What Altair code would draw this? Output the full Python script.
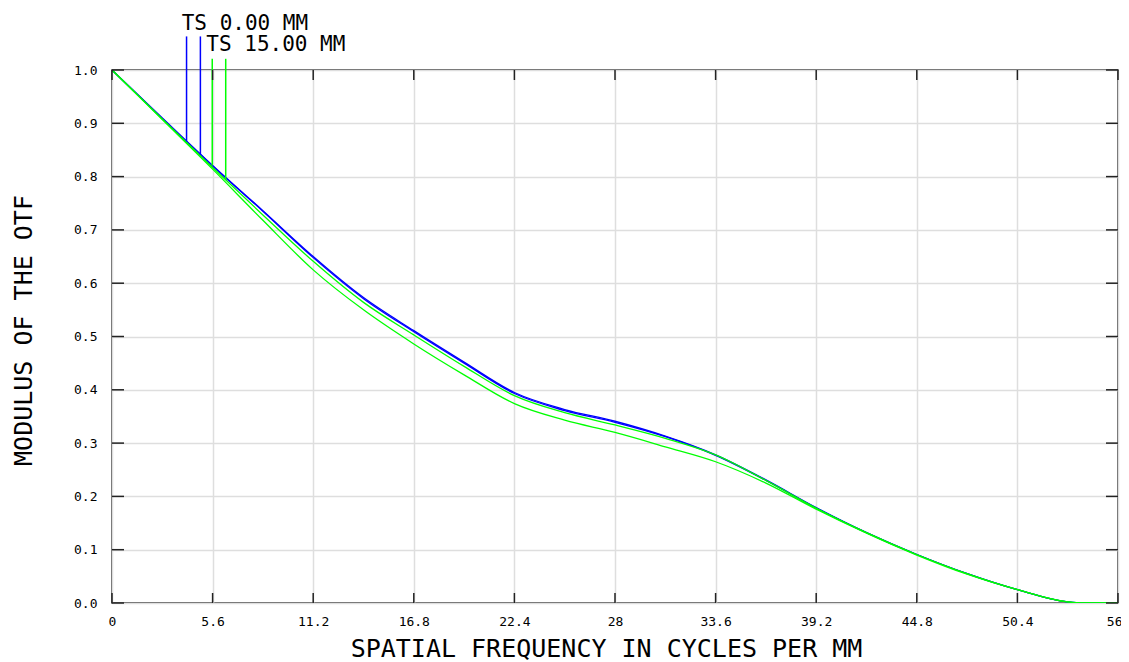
import altair as alt
import pandas as pd

# ---------------- data ----------------
freq = [0, 2.8, 5.6, 8.4, 11.2, 14.0, 16.8, 19.6, 22.4, 25.2, 28.0, 30.8,
        33.6, 36.4, 39.2, 42.0, 44.8, 47.6, 50.4, 53.2, 54.0, 56.0]

# field 0.00 mm (blue): tangential and sagittal almost coincide
ts0_t = [1.0, 0.910, 0.821, 0.736, 0.650, 0.573, 0.511, 0.452, 0.395, 0.363, 0.341,
         0.313, 0.278, 0.231, 0.179, 0.132, 0.091, 0.055, 0.025, 0.002, 0.0, 0.0]
ts0_s = [1.0, 0.909, 0.820, 0.735, 0.648, 0.571, 0.509, 0.450, 0.393, 0.361, 0.339,
         0.312, 0.277, 0.230, 0.178, 0.132, 0.091, 0.055, 0.025, 0.002, 0.0, 0.0]

# field 15.00 mm (green)
ts15_t = [1.0, 0.908, 0.817, 0.728, 0.641, 0.564, 0.503, 0.444, 0.389, 0.357, 0.334,
          0.309, 0.278, 0.230, 0.178, 0.132, 0.091, 0.055, 0.025, 0.002, 0.0, 0.0]
ts15_s = [1.0, 0.907, 0.814, 0.718, 0.625, 0.550, 0.486, 0.428, 0.374, 0.343, 0.320,
          0.293, 0.265, 0.225, 0.176, 0.131, 0.090, 0.054, 0.025, 0.002, 0.0, 0.0]

# legend marker lines and labels
marker_freq = [4.15, 4.92, 5.58, 6.33]
marker_low = [0.866, 0.841, 0.821, 0.794]
marker_high = [1.063, 1.063, 1.021, 1.021]
marker_field = ["TS 0.00 MM", "TS 0.00 MM", "TS 15.00 MM", "TS 15.00 MM"]

label_text = ["TS 0.00 MM", "TS 15.00 MM"]
label_freq = [3.88, 5.25]
label_mod = [1.0756, 1.035]

x_ticks = [0, 5.6, 11.2, 16.8, 22.4, 28, 33.6, 39.2, 44.8, 50.4, 56]
y_ticks = [0.0, 0.1, 0.2, 0.3, 0.4, 0.5, 0.6, 0.7, 0.8, 0.9, 1.0]

x_title = "SPATIAL FREQUENCY IN CYCLES PER MM"
y_title = "MODULUS OF THE OTF"

fields = ["TS 0.00 MM", "TS 15.00 MM"]
colors = ["#0000ff", "#00ff00"]

# ---------------- tables ----------------
rows = []
for name, field, vals in [("0T", fields[0], ts0_t), ("0S", fields[0], ts0_s),
                          ("15T", fields[1], ts15_t), ("15S", fields[1], ts15_s)]:
    for f, v in zip(freq, vals):
        rows.append({"freq": f, "mtf": v, "curve": name, "field": field})
curves = pd.DataFrame(rows)
blue_df = curves[curves["field"] == fields[0]]
green_df = curves[curves["field"] == fields[1]]

markers = pd.DataFrame({"freq": marker_freq, "lo": marker_low, "hi": marker_high,
                        "field": marker_field})
labels = pd.DataFrame({"freq": label_freq, "mtf": label_mod, "text": label_text})
xt = pd.DataFrame({"freq": x_ticks})
yt = pd.DataFrame({"mtf": y_ticks})

W, H = 1006, 533
MONO = "DejaVu Sans Mono"

x_scale = alt.Scale(domain=[0, 56], nice=False, zero=False)
y_scale = alt.Scale(domain=[0, 1], nice=False, zero=False)

x_axis = alt.Axis(values=x_ticks, labelExpr="format(datum.value, '~g')",
                  grid=True, ticks=False, domain=False, labelPadding=12,
                  labelFlush=True, labelFlushOffset=4,
                  labelFont=MONO, labelFontSize=13, labelColor="#000",
                  title=x_title, titleFont=MONO, titleFontSize=25,
                  titleFontWeight="normal", titleColor="#000",
                  titleX=494, titleY=53, titleBaseline="alphabetic",
                  titleAnchor="middle")
y_axis = alt.Axis(values=y_ticks, format=".1f",
                  grid=True, ticks=False, domain=False, labelPadding=15,
                  labelFont=MONO, labelFontSize=13, labelColor="#000",
                  title=y_title, titleFont=MONO, titleFontSize=25,
                  titleFontWeight="normal", titleColor="#000",
                  titleX=-81, titleY=260, titleBaseline="alphabetic",
                  titleAngle=270, titleAnchor="middle")


def X(f):
    return alt.X(f, type="quantitative", scale=x_scale, axis=x_axis)


def Y(f):
    return alt.Y(f, type="quantitative", scale=y_scale, axis=y_axis)


color = alt.Color("field:N", scale=alt.Scale(domain=fields, range=colors), legend=None)

blue = alt.Chart(blue_df).mark_line(strokeWidth=1.3, interpolate="monotone", clip=True).encode(
    x=X("freq"), y=Y("mtf"), detail="curve:N", color=color)
green = alt.Chart(green_df).mark_line(strokeWidth=1.3, interpolate="monotone", clip=True).encode(
    x=X("freq"), y=Y("mtf"), detail="curve:N", color=color)

mk = alt.Chart(markers).mark_rule(strokeWidth=1.5).encode(
    x=X("freq"), y=Y("lo"), y2="hi", color=color)

txt = alt.Chart(labels).mark_text(align="left", baseline="alphabetic", font=MONO,
                                  fontSize=21, color="#000").encode(
    x=X("freq"), y=Y("mtf"), text="text:N")

tick_style = dict(color="#222", strokeWidth=1.5)
xt_bottom = alt.Chart(xt).mark_rule(**tick_style).encode(
    x=X("freq"), y=alt.value(H), y2=alt.value(H - 10))
xt_top = alt.Chart(xt).mark_rule(**tick_style).encode(
    x=X("freq"), y=alt.value(0), y2=alt.value(10))
yt_left = alt.Chart(yt).mark_rule(**tick_style).encode(
    y=Y("mtf"), x=alt.value(0), x2=alt.value(12))
yt_right = alt.Chart(yt).mark_rule(**tick_style).encode(
    y=Y("mtf"), x=alt.value(W), x2=alt.value(W - 12))

chart = alt.layer(blue, green, mk, txt, xt_bottom, xt_top, yt_left, yt_right).properties(
    width=W, height=H,
    autosize=alt.AutoSizeParams(type="none"),
    padding={"left": 104, "top": 62, "right": 3, "bottom": 59},
    background="white",
).configure_view(stroke="#222", strokeWidth=1.5).configure_axis(
    gridColor="#dedede", gridWidth=1.5
)

chart.save("out.html", embed_options={"renderer": "svg", "actions": False})
